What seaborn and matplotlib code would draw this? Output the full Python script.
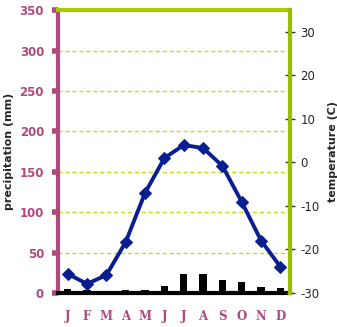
import matplotlib
matplotlib.use("Agg")
import matplotlib.pyplot as plt
import seaborn as sns
import pandas as pd
import numpy as np

months = ["J", "F", "M", "A", "M", "J", "J", "A", "S", "O", "N", "D"]
precip_mm = [5, 4, 3, 4, 4, 9, 23, 24, 16, 14, 8, 6]
temp_c = [-25.6, -27.9, -25.9, -18.3, -7.0, 1.0, 4.0, 3.3, -0.8, -9.1, -18.0, -24.0]
precip_ticks = [0, 50, 100, 150, 200, 250, 300, 350]
temp_ticks = [-30, -20, -10, 0, 10, 20, 30]

df = pd.DataFrame({"idx": np.arange(len(months)), "precip": precip_mm, "temp": temp_c})

sns.set_style("white")
plt.rcParams["font.family"] = ["DejaVu Sans"]

magenta = "#b04a7c"
green = "#a8cc00"
grid_green = "#c4dc1e"
navy = "#0a1f8f"

fig = plt.figure(figsize=(3.37, 3.27), dpi=100)
ax = fig.add_axes([0.172, 0.104, 0.689, 0.865])

sns.barplot(data=df, x="idx", y="precip", color="black", width=0.38,
            saturation=1, linewidth=0, ax=ax, zorder=3)
ax.set_xlim(-0.5, 11.5)
ax.set_ylim(0, 350)
ax.set_yticks(precip_ticks)
ax.set_yticklabels([str(t) for t in precip_ticks], color=magenta,
                   fontweight="bold", fontsize=8.5)
ax.set_xticks(range(len(months)))
ax.set_xticklabels(months, family="DejaVu Serif", fontweight="bold",
                   color=magenta, fontsize=8.5)
ax.tick_params(axis="x", length=0, pad=12)
ax.tick_params(axis="y", length=4, width=4, color=magenta, pad=6)
ax.set_xlabel("")
ax.set_ylabel("precipitation (mm)", fontweight="bold", fontsize=8, labelpad=4)

for y in precip_ticks[1:-1]:
    ax.axhline(y, color=grid_green, lw=1, ls=(0, (3, 2)), zorder=1)

ax.spines["left"].set_color(magenta)
ax.spines["left"].set_linewidth(3)
ax.spines["bottom"].set_color("black")
ax.spines["bottom"].set_linewidth(3)
ax.spines["bottom"].set_zorder(4)
ax.spines["top"].set_color(green)
ax.spines["top"].set_linewidth(3)
ax.spines["right"].set_visible(False)

ax2 = ax.twinx()
sns.lineplot(data=df, x="idx", y="temp", color=navy, lw=2.8, marker="D",
             markersize=6.5, markeredgecolor=navy, ax=ax2, zorder=5)
ax2.set_ylim(-30, 35)
ax2.set_yticks(temp_ticks)
ax2.set_yticklabels([str(t) for t in temp_ticks], fontsize=8.5)
ax2.tick_params(axis="y", direction="inout", length=7, width=1, color="#333333", pad=4)
ax2.set_ylabel("temperature (C)", fontweight="bold", fontsize=8, labelpad=6)
ax2.set_xlim(-0.5, 11.5)
for s in ["left", "top", "bottom"]:
    ax2.spines[s].set_visible(False)
ax2.spines["right"].set_color("#99bb00")
ax2.spines["right"].set_linewidth(3)

fig.savefig("out.png", dpi=100)
